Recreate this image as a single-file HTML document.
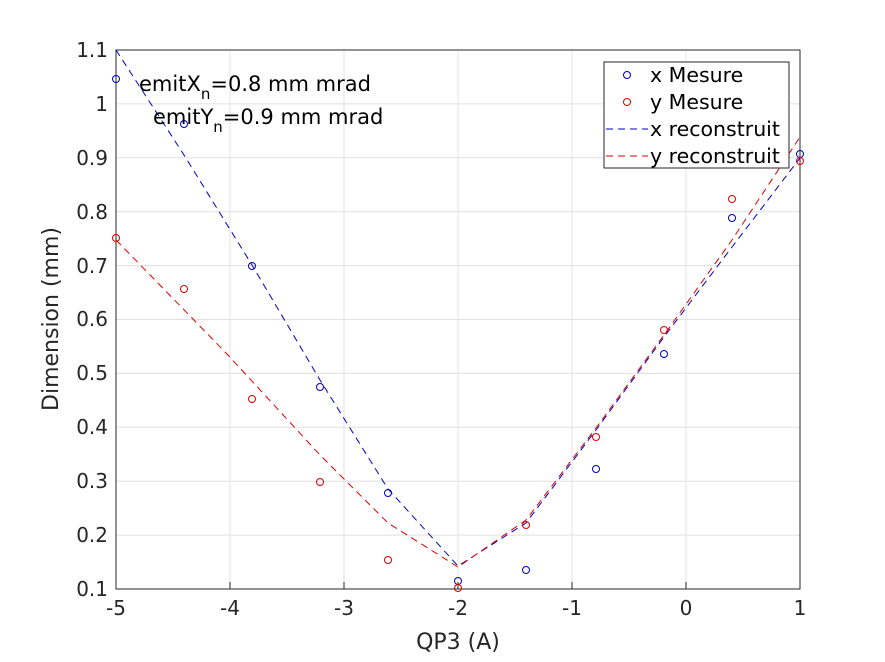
<!DOCTYPE html>
<html><head><meta charset="utf-8"><style>body{margin:0;background:#fff}svg{display:block}</style></head><body>
<svg width="885" height="662" xmlns="http://www.w3.org/2000/svg" font-family="DejaVu Sans, Liberation Sans, sans-serif">
<rect width="885" height="662" fill="#fff"/>
<g stroke="#e0e0e0" stroke-width="1">
<line x1="230" y1="50" x2="230" y2="589"/><line x1="344" y1="50" x2="344" y2="589"/><line x1="458" y1="50" x2="458" y2="589"/><line x1="572" y1="50" x2="572" y2="589"/><line x1="686" y1="50" x2="686" y2="589"/>
<line x1="116" y1="535.1" x2="800" y2="535.1"/><line x1="116" y1="481.2" x2="800" y2="481.2"/><line x1="116" y1="427.3" x2="800" y2="427.3"/><line x1="116" y1="373.4" x2="800" y2="373.4"/><line x1="116" y1="319.5" x2="800" y2="319.5"/><line x1="116" y1="265.6" x2="800" y2="265.6"/><line x1="116" y1="211.7" x2="800" y2="211.7"/><line x1="116" y1="157.8" x2="800" y2="157.8"/><line x1="116" y1="103.9" x2="800" y2="103.9"/>
</g>
<rect x="116" y="50" width="684" height="539" fill="none" stroke="#262626" stroke-width="1"/>
<g stroke="#262626">
<line x1="230" y1="589" x2="230" y2="582"/><line x1="344" y1="589" x2="344" y2="582"/><line x1="458" y1="589" x2="458" y2="582"/><line x1="572" y1="589" x2="572" y2="582"/><line x1="686" y1="589" x2="686" y2="582"/>
</g>
<g font-size="20" fill="#262626" text-anchor="middle">
<text x="116" y="615">-5</text><text x="230" y="615">-4</text><text x="344" y="615">-3</text><text x="458" y="615">-2</text><text x="572" y="615">-1</text><text x="686" y="615">0</text><text x="800" y="615">1</text>
</g>
<g font-size="20" fill="#262626" text-anchor="end">
<text x="108" y="596">0.1</text><text x="108" y="542">0.2</text><text x="108" y="488">0.3</text><text x="108" y="434">0.4</text><text x="108" y="380">0.5</text><text x="108" y="326">0.6</text><text x="108" y="273">0.7</text><text x="108" y="219">0.8</text><text x="108" y="165">0.9</text><text x="108" y="111">1</text><text x="108" y="57">1.1</text>
</g>
<text x="458" y="649" font-size="22" fill="#262626" text-anchor="middle">QP3 (A)</text>
<text transform="translate(58,319) rotate(-90)" font-size="22" fill="#262626" text-anchor="middle">Dimension (mm)</text>
<polyline points="116,50 184,155 252,265 320,380 388,489 458,566 526,523 596,430 664,337 732,247 800,158" fill="none" stroke="#0000c0" stroke-dasharray="7,5"/>
<polyline points="116,240 227,354 320,455 388,523 458,567 526,520 596,428 664,335 732,240 800,137" fill="none" stroke="#e00000" stroke-dasharray="7,5"/>
<g fill="none" stroke="#0000c0">
<circle cx="116" cy="79" r="3.5"/><circle cx="184" cy="124" r="3.5"/><circle cx="252" cy="266" r="3.5"/><circle cx="320" cy="387" r="3.5"/><circle cx="388" cy="493" r="3.5"/><circle cx="458" cy="581" r="3.5"/><circle cx="526" cy="570" r="3.5"/><circle cx="596" cy="469" r="3.5"/><circle cx="664" cy="354" r="3.5"/><circle cx="732" cy="218" r="3.5"/><circle cx="800" cy="154" r="3.5"/>
</g>
<g fill="none" stroke="#e00000">
<circle cx="116" cy="238" r="3.5"/><circle cx="184" cy="289" r="3.5"/><circle cx="252" cy="399" r="3.5"/><circle cx="320" cy="482" r="3.5"/><circle cx="388" cy="560" r="3.5"/><circle cx="458" cy="588" r="3.5"/><circle cx="526" cy="525" r="3.5"/><circle cx="596" cy="437" r="3.5"/><circle cx="664" cy="330" r="3.5"/><circle cx="732" cy="199" r="3.5"/><circle cx="800" cy="161" r="3.5"/>
</g>
<g font-size="21" fill="#000">
<text x="139" y="91">emitX<tspan font-size="15" dy="8">n</tspan><tspan dy="-8">=0.8 mm mrad</tspan></text>
<text x="153" y="124">emitY<tspan font-size="15" dy="8">n</tspan><tspan dy="-8">=0.9 mm mrad</tspan></text>
</g>
<rect x="604" y="62" width="185" height="106" fill="#fff" stroke="#262626"/>
<circle cx="627" cy="75" r="3.5" fill="none" stroke="#0000c0"/>
<circle cx="627" cy="102" r="3.5" fill="none" stroke="#e00000"/>
<line x1="606" y1="129" x2="648" y2="129" stroke="#0000c0" stroke-dasharray="7,5"/>
<line x1="606" y1="156" x2="648" y2="156" stroke="#e00000" stroke-dasharray="7,5"/>
<g font-size="20.5" fill="#000">
<text x="650" y="82">x Mesure</text><text x="650" y="109">y Mesure</text><text x="650" y="136">x reconstruit</text><text x="650" y="163">y reconstruit</text>
</g>
</svg>
</body></html>
